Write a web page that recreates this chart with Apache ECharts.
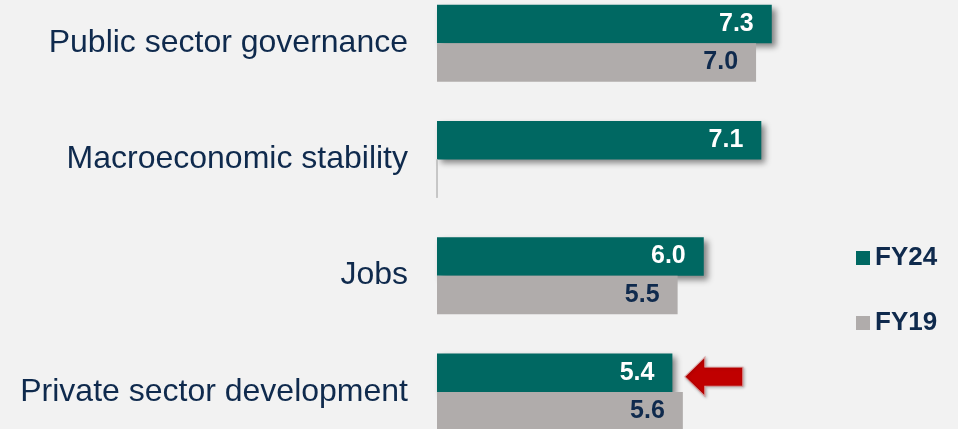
<!DOCTYPE html>
<html>
<head>
<meta charset="utf-8">
<script src="https://cdn.jsdelivr.net/npm/echarts@6/dist/echarts.min.js"></script>
<style>
  html, body { margin: 0; padding: 0; background: #f2f2f2; }
  #main { width: 958px; height: 429px; }
</style>
</head>
<body>
<div id="main"></div>
<script>
// data
var categories = ["Public sector governance", "Macroeconomic stability", "Jobs", "Private sector development"];
var fy24 = [7.3, 7.1, 6.0, 5.4];
var fy19 = [7.0, null, 5.5, 5.6];

var navy = "#0f2a4d";
var teal = "#006862";
var grey = "#b0acab";
var xMin = 0.9;
var fontFamily = "'Liberation Sans', Arial, sans-serif";

var myChart = echarts.init(document.getElementById("main"));

// missing FY19 value drawn as an empty bar (thin line at the baseline)
var fy19Data = fy19.map(function (v) {
  if (v === null) {
    return {
      value: xMin,
      itemStyle: { borderColor: "#b8b8b8", borderWidth: 1 },
      label: { show: false },
    };
  }
  return v;
});

var valueLabel = function (color) {
  return {
    show: true,
    position: "insideRight",
    distance: 18,
    color: color,
    fontSize: 25,
    fontWeight: "bold",
    fontFamily: fontFamily,
    formatter: function (p) { return p.value.toFixed(1); },
  };
};

myChart.setOption({
  backgroundColor: "#f2f2f2",
  animation: false,
  grid: {
    left: 437,
    width: 476,
    top: -15,
    height: 465,
    outerBoundsMode: "none",
  },
  legend: {
    data: ["FY24", "FY19"],
    orient: "vertical",
    left: 856,
    top: 245,
    padding: 0,
    itemWidth: 14,
    itemHeight: 14,
    itemGap: 39,
    icon: "rect",
    itemStyle: { shadowBlur: 0, shadowOffsetX: 0, shadowOffsetY: 0 },
    textStyle: { color: navy, fontSize: 26, fontWeight: "bold", fontFamily: fontFamily },
  },
  xAxis: {
    type: "value",
    min: xMin,
    max: 10,
    startValue: xMin,
    show: false,
    splitLine: { show: false },
  },
  yAxis: {
    type: "category",
    data: categories,
    inverse: true,
    axisLine: { show: false },
    axisTick: { show: false },
    axisLabel: {
      margin: 29,
      color: navy,
      fontSize: 32,
      fontFamily: fontFamily,
    },
  },
  series: [
    {
      name: "FY24",
      type: "bar",
      data: fy24,
      barWidth: 38.5,
      barGap: "0%",
      itemStyle: {
        color: teal,
        shadowColor: "rgba(0,0,0,0.45)",
        shadowBlur: 6,
        shadowOffsetX: 4,
        shadowOffsetY: 4,
      },
      label: valueLabel("#ffffff"),
      markPoint: {
        symbol: "path://M0,19.5 L20,0 L20,10 L58,10 L58,29 L20,29 L20,39 Z",
        symbolSize: [58, 39],
        symbolOffset: [41.5, 4],
        label: { show: false },
        itemStyle: {
          color: "#c00000",
          borderColor: "#d9a0a0",
          borderWidth: 1,
          shadowColor: "rgba(0,0,0,0.25)",
          shadowBlur: 3,
          shadowOffsetX: 1,
          shadowOffsetY: 1,
        },
        data: [{ coord: [fy24[3], categories[3]] }],
      },
    },
    {
      name: "FY19",
      type: "bar",
      data: fy19Data,
      barWidth: 38.5,
      clip: false,
      itemStyle: { color: grey },
      label: valueLabel(navy),
    },
  ],
});
</script>
</body>
</html>
